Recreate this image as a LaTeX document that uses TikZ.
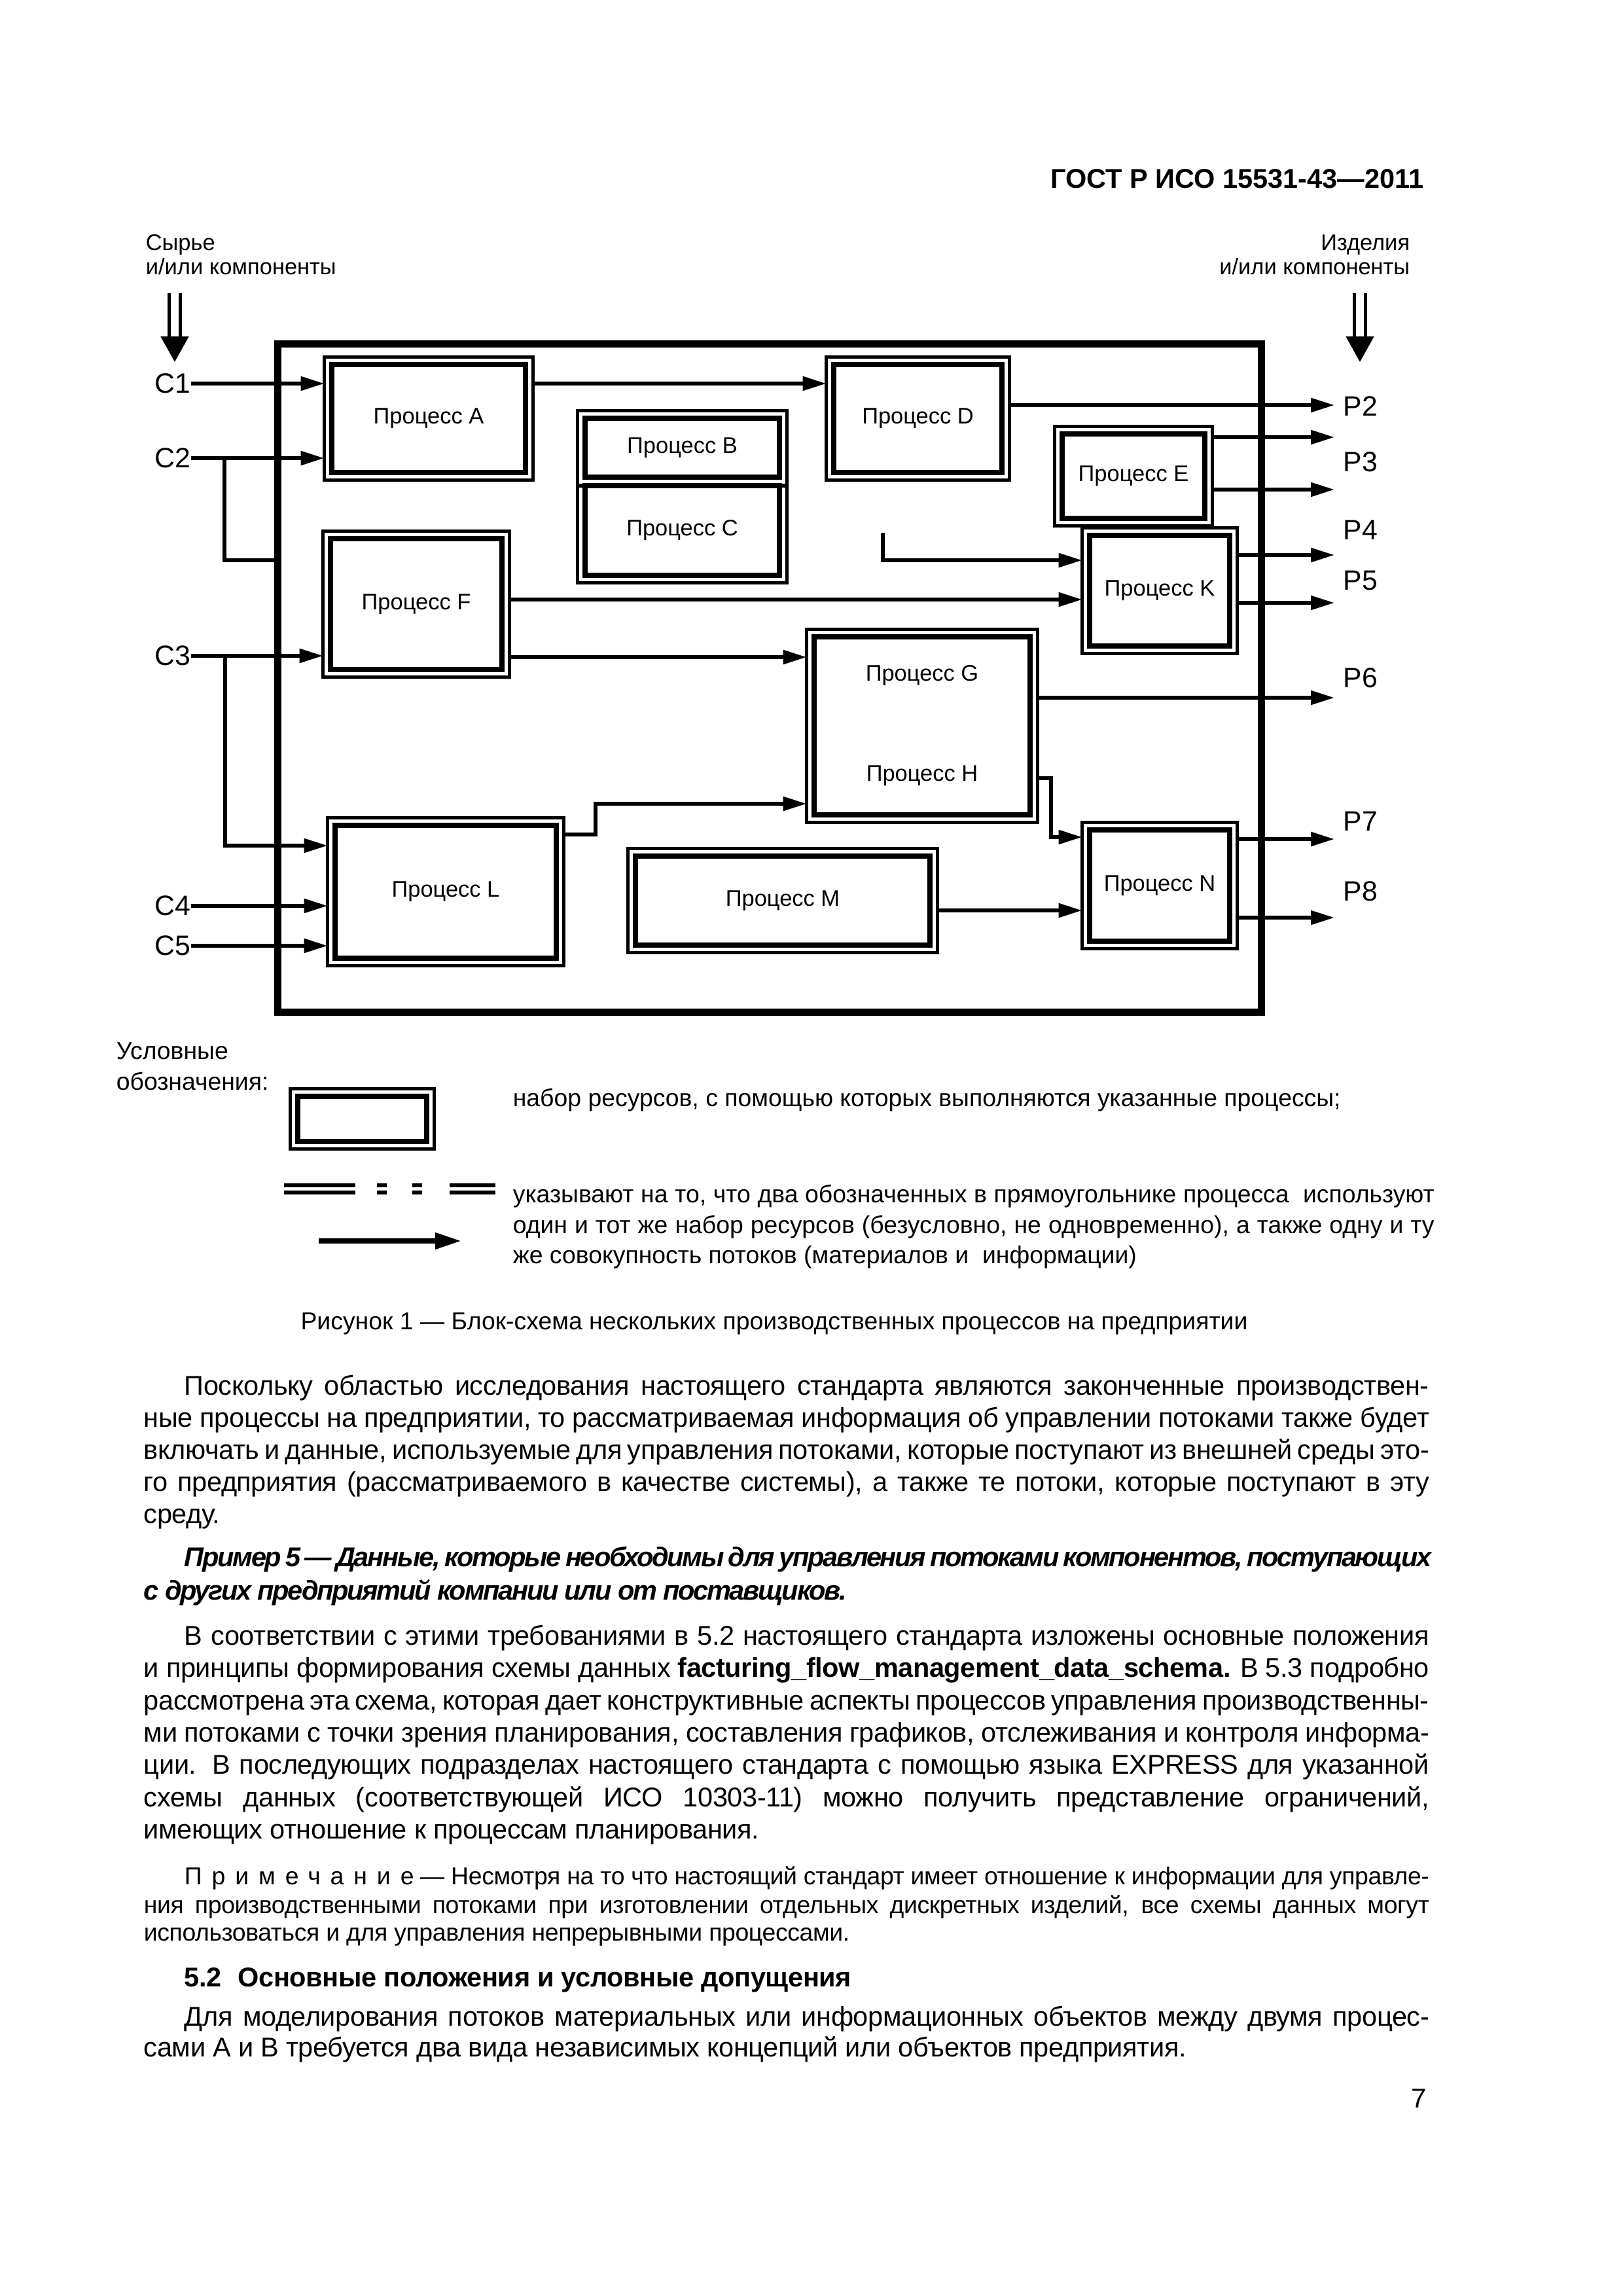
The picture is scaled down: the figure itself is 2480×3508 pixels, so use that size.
\documentclass[tikz,border=0pt]{standalone}
\usepackage{fontspec}
\setmainfont{Liberation Sans}
\newfontfamily\condfont{Liberation Sans}[LetterSpace=-1]
\usetikzlibrary{arrows.meta, fit}
\newlength\pxu
\setlength\pxu{0.084677mm}
\newcommand\lblfont{\fontsize{8.3}{8.9}\selectfont}
\newcommand\iofont{\fontsize{10.3}{12}\selectfont}
\newcommand\bodyfont{\condfont\fontsize{10}{12}\selectfont}
\newcommand\notefont{\condfont\fontsize{9}{11}\selectfont}
\newcommand\legfont{\fontsize{9}{11}\selectfont}
\newcommand\jst[2]{\makebox[#1\pxu][s]{#2}}

\begin{document}
\begin{tikzpicture}[x=\pxu, y=-\pxu,
    inbox/.style={draw, line width=0.68mm, inner sep=0pt, outer sep=0pt},
    outbox/.style={draw, line width=0.47mm, inner sep=0.97mm, outer sep=0pt},
    frame/.style={draw, line width=0.89mm, inner sep=0pt, outer sep=0pt},
    lbl/.style={font=\lblfont, inner sep=0pt},
    flow/.style={line width=0.47mm, -{Triangle[length=3.05mm, width=1.78mm]}},
    lin/.style={line width=0.47mm},
    dbl/.style={line width=0.42mm, double distance=1.02mm, -{Triangle[length=3.3mm, width=3.56mm]}},
    io/.style={inner sep=0pt, font=\iofont},
    txt/.style={anchor=base west, inner sep=0pt, font=\bodyfont}]
    \fill[white] (0,0) rectangle (2480,3508);

    % Header
    \node[anchor=base east, inner sep=0pt, font=\bfseries\fontsize{10}{12}\selectfont] (hdr) at (2176,287) {ГОСТ Р ИСО 15531-43—2011};

    % Inputs and outputs of the enterprise
    \node[anchor=north west, align=left, inner sep=0pt, font=\lblfont] (src) at (222,358) {Сырье\\и/или компоненты};
    \node[anchor=north east, align=right, inner sep=0pt, font=\lblfont] (prod) at (2155,358) {Изделия\\и/или компоненты};
    \coordinate (srcA) at (267,448);
    \coordinate (srcB) at (267,553);
    \coordinate (prodA) at (2078,448);
    \coordinate (prodB) at (2078,553);
    \draw[dbl] (srcA) -- (srcB);
    \draw[dbl] (prodA) -- (prodB);

    % Enterprise frame
    \node[frame, fit={(424.5,525.5) (1927.5,1546.5)}] (Fr) {};

    % Processes
    \node[inbox, fit={(507,557) (803,722)}] (A) {};
    \node[outbox, fit=(A)] (Ao) {};
    \node[inbox, fit={(1274,557) (1531,722)}] (D) {};
    \node[outbox, fit=(D)] (Do) {};
    \node[inbox, fit={(894,639) (1191,729)}] (B) {};
    \node[inbox, fit={(894,742) (1191,879)}] (C) {};
    \node[outbox, fit=(B)(C)] (BCo) {};
    \draw[lin] (BCo.west |- C.north) -- (BCo.east |- C.north);
    \node[inbox, fit={(1623,663) (1841,792)}] (E) {};
    \node[outbox, fit=(E)] (Eo) {};
    \node[inbox, fit={(1665,818) (1879,987)}] (K) {};
    \node[outbox, fit=(K)] (Ko) {};
    \node[inbox, fit={(505,823) (767,1023)}] (F) {};
    \node[outbox, fit=(F)] (Fo) {};
    \node[inbox, fit={(1244,973) (1574,1245)}] (G) {};
    \node[outbox, fit=(G)] (Go) {};
    \node[inbox, fit={(512,1261) (850,1464)}] (L) {};
    \node[outbox, fit=(L)] (Lo) {};
    \node[inbox, fit={(971,1308) (1421,1444)}] (M) {};
    \node[outbox, fit=(M)] (Mo) {};
    \node[inbox, fit={(1665,1268) (1879,1438)}] (N) {};
    \node[outbox, fit=(N)] (No) {};
    \foreach \p in {A,B,C,D,E,F,K,L,M,N}
        \node[lbl] (t\p) at (\p.center) {Процесс \p};
    \node[lbl] (tG) at (1409,1032) {Процесс G};
    \node[lbl] (tH) at (1409,1185) {Процесс H};

    % Labels of the flows
    \foreach \n/\y in {1/586, 2/700, 3/1002, 4/1384, 5/1445}
        \node[io, anchor=east] (C\n) at (292,\y) {C\n};
    \foreach \n/\y in {2/621, 3/706, 4/810, 5/887, 6/1036, 7/1255, 8/1362}
        \node[io] (P\n) at (2079,\y) {P\n};
    \foreach \n/\y in {2/619, 3/668, 3b/748, 4/848, 5/921, 6/1066, 7/1282, 8/1402}
        \coordinate (e\n) at (2039,\y);

    % Incoming flows
    \draw[flow] (C1.east) -- (Ao.west |- C1.east);
    \draw[flow] (C2.east) -- (Ao.west |- C2.east);
    \coordinate (j2) at (343,700);
    \draw[lin] (j2) |- (Fr.west |- 0,856);
    \draw[flow] (C3.east) -- (Fo.west |- C3.east);
    \coordinate (j3) at (344,1002);
    \draw[flow] (j3) |- (Lo.west |- 0,1292);
    \draw[flow] (C4.east) -- (Lo.west |- C4.east);
    \draw[flow] (C5.east) -- (Lo.west |- C5.east);

    % Flows between processes
    \draw[flow] (Ao.east |- C1.east) -- (Do.west |- C1.east);
    \coordinate (kin) at (1349,814);
    \draw[flow] (kin) |- (Ko.west |- 0,856);
    \draw[flow] (Fo.east |- 0,916) -- (Ko.west |- 0,916);
    \draw[flow] (Fo.east |- 0,1004) -- (Go.west |- 0,1004);
    \draw[flow] (Go.east |- 0,1189) -| (1606,1279) -- (No.west |- 0,1279);
    \draw[flow] (Lo.east |- 0,1275) -| (910,1228) -- (Go.west |- 0,1228);
    \draw[flow] (Mo.east |- 0,1391) -- (No.west |- 0,1391);

    % Outgoing flows
    \draw[flow] (Do.east |- e2) -- (e2);
    \draw[flow] (Eo.east |- e3) -- (e3);
    \draw[flow] (Eo.east |- e3b) -- (e3b);
    \draw[flow] (Ko.east |- e4) -- (e4);
    \draw[flow] (Ko.east |- e5) -- (e5);
    \draw[flow] (Go.east |- e6) -- (e6);
    \draw[flow] (No.east |- e7) -- (e7);
    \draw[flow] (No.east |- e8) -- (e8);

    % Legend
    \node[txt, font=\legfont] (leg1) at (177,1618) {Условные};
    \node[txt, font=\legfont] (leg2) at (177,1665) {обозначения:};
    \node[inbox, fit={(455,1675) (652,1744)}] (lbox) {};
    \node[outbox, fit=(lbox)] (lboxo) {};
    \node[txt, font=\legfont] (lt1) at (783,1690) {набор ресурсов, с помощью которых выполняются указанные процессы;};
    \foreach \a/\b in {434/543, 576/591, 630/645, 687/757} {
        \draw[lin] (\a,1811) -- (\b,1811);
        \draw[lin] (\a,1822) -- (\b,1822);
    }
    \coordinate (la) at (487,1896);
    \coordinate (lb) at (705,1896);
    \draw[line width=0.64mm, -{Triangle[length=3.39mm, width=2.03mm]}] (la) -- (lb);
    \node[txt, font=\legfont] (lt2) at (783,1837) {\jst{1408}{указывают на то, что два обозначенных в прямоугольнике процесса \ используют}};
    \node[txt, font=\legfont] (lt3) at (783,1884) {\jst{1408}{один и тот же набор ресурсов (безусловно, не одновременно), а также одну и ту}};
    \node[txt, font=\legfont] (lt4) at (783,1930) {же совокупность потоков (материалов и \ информации)};

    % Caption
    \node[anchor=base, inner sep=0pt, font=\legfont] (cap) at (1183,2031) {Рисунок 1 — Блок-схема нескольких производственных процессов на предприятии};

    % Body text
    \node[txt] (p1a) at (281,2131) {\jst{1902}{Поскольку областью исследования настоящего стандарта являются законченные производствен-}};
    \node[txt] (p1b) at (219,2180) {\jst{1964}{ные процессы на предприятии, то рассматриваемая информация об управлении потоками также будет}};
    \node[txt] (p1c) at (219,2229) {\jst{1964}{включать и данные, используемые для управления потоками, которые поступают из внешней среды это-}};
    \node[txt] (p1d) at (219,2278) {\jst{1964}{го предприятия (рассматриваемого в качестве системы), а также те потоки, которые поступают в эту}};
    \node[txt] (p1e) at (219,2327) {среду.};
    \node[txt] (p2a) at (281,2393) {\jst{1902}{\bfseries\itshape\addfontfeature{LetterSpace=-5.5}Пример 5 — Данные, которые необходимы для управления потоками компонентов, поступающих}};
    \node[txt] (p2b) at (219,2444) {\bfseries\itshape\addfontfeature{LetterSpace=-5.5}с других предприятий компании или от поставщиков.};
    \node[txt] (p3a) at (281,2513) {\jst{1902}{В соответствии с этими требованиями в 5.2 настоящего стандарта изложены основные положения}};
    \node[txt] (p3b) at (219,2562) {\jst{1964}{и принципы формирования схемы данных \textbf{facturing\_flow\_management\_data\_schema.} В 5.3 подробно}};
    \node[txt] (p3c) at (219,2612) {\jst{1964}{рассмотрена эта схема, которая дает конструктивные аспекты процессов управления производственны-}};
    \node[txt] (p3d) at (219,2661) {\jst{1964}{ми потоками с точки зрения планирования, составления графиков, отслеживания и контроля информа-}};
    \node[txt] (p3e) at (219,2710) {\jst{1964}{ции. В последующих подразделах настоящего стандарта с помощью языка EXPRESS для указанной}};
    \node[txt] (p3f) at (219,2760) {\jst{1964}{схемы данных (соответствующей ИСО 10303-11) можно получить представление ограничений,}};
    \node[txt] (p3g) at (219,2809) {имеющих отношение к процессам планирования.};
    \node[txt, font=\notefont] (n1) at (281,2879) {\jst{1902}{{\addfontfeature{LetterSpace=40}Примечание}\hspace{0.25em}— Несмотря на то что настоящий стандарт имеет отношение к информации для управле-}};
    \node[txt, font=\notefont] (n2) at (219,2923) {\jst{1964}{ния производственными потоками при изготовлении отдельных дискретных изделий, все схемы данных могут}};
    \node[txt, font=\notefont] (n3) at (219,2965) {использоваться и для управления непрерывными процессами.};
    \node[txt] (h52) at (281,3035) {\bfseries 5.2\hspace{0.6em}Основные положения и условные допущения};
    \node[txt] (p4a) at (281,3095) {\jst{1902}{Для моделирования потоков материальных или информационных объектов между двумя процес-}};
    \node[txt] (p4b) at (219,3142) {сами А и В требуется два вида независимых концепций или объектов предприятия.};
    \node[anchor=base east, inner sep=0pt, font=\fontsize{10}{12}\selectfont] (pg) at (2180,3220) {7};
\end{tikzpicture}
\end{document}
